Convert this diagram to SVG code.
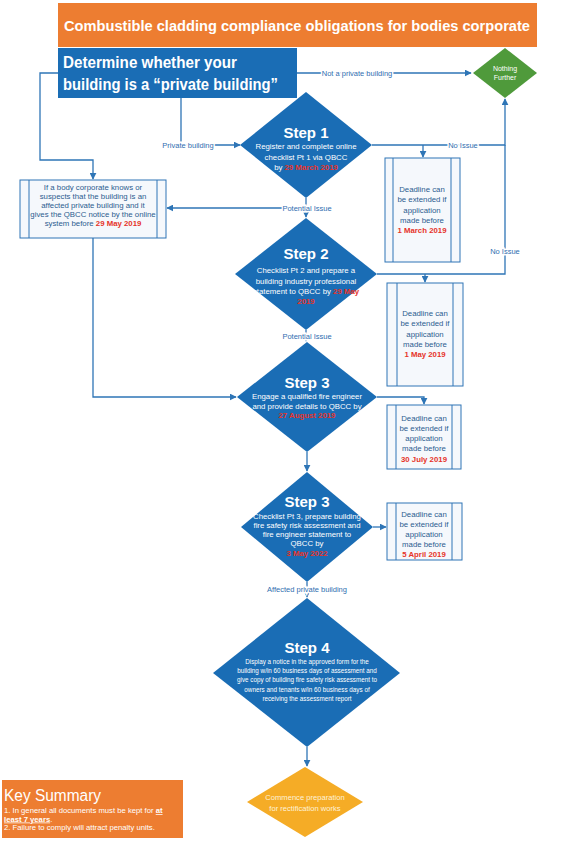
<svg xmlns="http://www.w3.org/2000/svg" width="562" height="850" viewBox="0 0 562 850">
<defs>
<marker id="ah" viewBox="0 0 10 10" refX="9" refY="5" markerWidth="7" markerHeight="7" orient="auto" markerUnits="userSpaceOnUse"><path d="M0,0 L10,5 L0,10 z" fill="#2E75B6"/></marker>
<style>
text{font-family:"Liberation Sans",Arial,sans-serif}
.c{fill:none;stroke:#2E75B6;stroke-width:1.3}
.lbl{font-size:7.5px;fill:#2F6EB0;text-anchor:middle;stroke:#fff;stroke-width:3;paint-order:stroke}
.box{fill:#F5F8FC;stroke:#2E75B6;stroke-width:1}
.in{stroke:#2E75B6;stroke-width:1}
.bt{font-size:7.8px;fill:#2B5C8F;text-anchor:middle}
.dia{fill:#1A6DB5}
.st{font-weight:bold;font-size:15px;fill:#fff;text-anchor:middle}
.dt{font-size:7.8px;fill:#fff;text-anchor:middle}
.s4{font-size:6.3px}
.red{fill:#E63329;font-weight:bold}
</style>
</defs>
<rect width="562" height="850" fill="#fff"/>

<g id="title">
<rect x="58" y="3" width="479" height="44" fill="#ED7D31"/>
<text x="297" y="31" font-size="15" font-weight="bold" fill="#fff" text-anchor="middle" textLength="466" lengthAdjust="spacingAndGlyphs">Combustible cladding compliance obligations for bodies corporate</text>
</g>

<g id="connectors">
<polyline class="c" points="297,73 471,73" marker-end="url(#ah)"/>
<polyline class="c" points="58,73 40,73 40,160 93,160 93,179" marker-end="url(#ah)"/>
<polyline class="c" points="181,98 181,145 240,145" marker-end="url(#ah)"/>
<polyline class="c" points="372,145 505,145 505,99" marker-end="url(#ah)"/>
<polyline class="c" points="423,145 423,157" marker-end="url(#ah)"/>
<polyline class="c" points="306,198 306,217" marker-end="url(#ah)"/>
<polyline class="c" points="306,208 167,208" marker-end="url(#ah)"/>
<polyline class="c" points="377,274 505,274 505,145"/>
<polyline class="c" points="425,274 425,282" marker-end="url(#ah)"/>
<polyline class="c" points="306,330 306,341" marker-end="url(#ah)"/>
<polyline class="c" points="93,238 93,397 236,397" marker-end="url(#ah)"/>
<polyline class="c" points="377,397 424,397 424,404" marker-end="url(#ah)"/>
<polyline class="c" points="307,452 307,471" marker-end="url(#ah)"/>
<polyline class="c" points="373,527 386,527" marker-end="url(#ah)"/>
<polyline class="c" points="307,582 307,597" marker-end="url(#ah)"/>
<polyline class="c" points="307,747 307,766" marker-end="url(#ah)"/>
<text class="lbl" x="357" y="76">Not a private building</text>
<text class="lbl" x="188" y="148">Private building</text>
<text class="lbl" x="463" y="148">No Issue</text>
<text class="lbl" x="307" y="211">Potential Issue</text>
<text class="lbl" x="505" y="254">No Issue</text>
<text class="lbl" x="307" y="339">Potential Issue</text>
<text class="lbl" x="307" y="592">Affected private building</text>
</g>

<g id="determine">
<rect x="58" y="48" width="239" height="50" fill="#1A6DB5"/>
<text x="63" y="68" font-size="16.5" font-weight="bold" fill="#fff" textLength="174" lengthAdjust="spacingAndGlyphs">Determine whether your</text>
<text x="63" y="90" font-size="16.5" font-weight="bold" fill="#fff" textLength="215" lengthAdjust="spacingAndGlyphs">building is a “private building”</text>
</g>

<g id="nothing-further">
<polygon points="505,48 537,73 505,98 473,73" fill="#4F9A3B"/>
<text x="505" y="71" font-size="7" fill="#fff" text-anchor="middle">Nothing</text>
<text x="505" y="80" font-size="7" fill="#fff" text-anchor="middle">Further</text>
</g>

<g id="step1">
<polygon class="dia" points="306,92 372,145 306,198 240,145"/>
<text class="st" x="306" y="138">Step 1</text>
<text class="dt" x="306" y="149">Register and complete online</text>
<text class="dt" x="306" y="159.5">checklist Pt 1 via QBCC</text>
<text class="dt" x="306" y="170">by <tspan class="red">29 March 2019</tspan></text>
</g>

<g id="notify-box">
<rect class="box" x="20" y="180" width="146" height="58"/>
<line class="in" x1="29" y1="180" x2="29" y2="238"/>
<line class="in" x1="157" y1="180" x2="157" y2="238"/>
<text class="bt" x="93" y="190">If a body corporate knows or</text>
<text class="bt" x="93" y="199">suspects that the building is an</text>
<text class="bt" x="93" y="208">affected private building and it</text>
<text class="bt" x="93" y="217">gives the QBCC notice by the online</text>
<text class="bt" x="93" y="226">system before <tspan class="red">29 May 2019</tspan></text>
</g>

<g id="deadline1">
<rect class="box" x="385" y="158" width="75" height="104"/>
<line class="in" x1="393" y1="158" x2="393" y2="262"/>
<line class="in" x1="451" y1="158" x2="451" y2="262"/>
<text class="bt" x="422" y="192">Deadline can</text>
<text class="bt" x="422" y="202">be extended if</text>
<text class="bt" x="422" y="212.5">application</text>
<text class="bt" x="422" y="222.5">made before</text>
<text class="bt red" x="422" y="233">1 March 2019</text>
</g>

<g id="step2">
<polygon class="dia" points="306,218 377,274 306,330 235,274"/>
<text class="st" x="306" y="259">Step 2</text>
<text class="dt" x="306" y="273">Checklist Pt 2 and prepare a</text>
<text class="dt" x="306" y="283.5">building industry professional</text>
<text class="dt" x="306" y="294">statement to QBCC by <tspan class="red">29 May</tspan></text>
<text class="dt red" x="306" y="304">2019</text>
</g>

<g id="deadline2">
<rect class="box" x="387" y="283" width="76" height="103"/>
<line class="in" x1="397" y1="283" x2="397" y2="386"/>
<line class="in" x1="453" y1="283" x2="453" y2="386"/>
<text class="bt" x="425" y="316">Deadline can</text>
<text class="bt" x="425" y="326">be extended if</text>
<text class="bt" x="425" y="336.5">application</text>
<text class="bt" x="425" y="346.5">made before</text>
<text class="bt red" x="425" y="357">1 May 2019</text>
</g>

<g id="step3a">
<polygon class="dia" points="307,342 377,397 307,452 237,397"/>
<text class="st" x="307" y="388">Step 3</text>
<text class="dt" x="307" y="399">Engage a qualified fire engineer</text>
<text class="dt" x="307" y="408.5">and provide details to QBCC by</text>
<text class="dt red" x="307" y="418">27 August 2019</text>
</g>

<g id="deadline3">
<rect class="box" x="387" y="405" width="74" height="64"/>
<line class="in" x1="396" y1="405" x2="396" y2="469"/>
<line class="in" x1="452" y1="405" x2="452" y2="469"/>
<text class="bt" x="424" y="421">Deadline can</text>
<text class="bt" x="424" y="431">be extended if</text>
<text class="bt" x="424" y="441">application</text>
<text class="bt" x="424" y="451">made before</text>
<text class="bt red" x="424" y="462">30 July 2019</text>
</g>

<g id="step3b">
<polygon class="dia" points="307,472 373,527 307,582 241,527"/>
<text class="st" x="307" y="507">Step 3</text>
<text class="dt" x="307" y="519">Checklist Pt 3, prepare building</text>
<text class="dt" x="307" y="528">fire safety risk assessment and</text>
<text class="dt" x="307" y="537">fire engineer statement to</text>
<text class="dt" x="307" y="546">QBCC by</text>
<text class="dt red" x="307" y="556">3 May 2022</text>
</g>

<g id="deadline4">
<rect class="box" x="387" y="503" width="75" height="57"/>
<line class="in" x1="396" y1="503" x2="396" y2="560"/>
<line class="in" x1="452" y1="503" x2="452" y2="560"/>
<text class="bt" x="424" y="517">Deadline can</text>
<text class="bt" x="424" y="527">be extended if</text>
<text class="bt" x="424" y="537">application</text>
<text class="bt" x="424" y="547">made before</text>
<text class="bt red" x="424" y="557">5 April 2019</text>
</g>

<g id="step4">
<polygon class="dia" points="307,598 400,673 307,747 213,673"/>
<text class="st" x="307" y="653">Step 4</text>
<text class="dt s4" x="307" y="664">Display a notice in the approved form for the</text>
<text class="dt s4" x="307" y="673">building w/in 60 business days of assessment and</text>
<text class="dt s4" x="307" y="682">give copy of building fire safety risk assessment to</text>
<text class="dt s4" x="307" y="691.5">owners and tenants w/in 60 business days of</text>
<text class="dt s4" x="307" y="701">receiving the assessment report</text>
</g>

<g id="rectification">
<polygon points="305,767 363,802 305,837 247,802" fill="#F5AC26"/>
<text x="305" y="800" font-size="7.6" fill="#FFF2D9" text-anchor="middle">Commence preparation</text>
<text x="305" y="811" font-size="7.6" fill="#FFF2D9" text-anchor="middle">for rectification works</text>
</g>

<g id="key-summary">
<rect x="2" y="780" width="181" height="58" fill="#ED7D31"/>
<text x="4" y="801" font-size="16" fill="#fff" textLength="97" lengthAdjust="spacingAndGlyphs">Key Summary</text>
<text x="4" y="813" font-size="7.7" fill="#fff">1. In general all documents must be kept for <tspan font-weight="bold" text-decoration="underline">at</tspan></text>
<text x="4" y="821.5" font-size="7.7" fill="#fff"><tspan font-weight="bold" text-decoration="underline">least 7 years</tspan>.</text>
<text x="4" y="830" font-size="7.7" fill="#fff">2. Failure to comply will attract penalty units.</text>
</g>
</svg>
